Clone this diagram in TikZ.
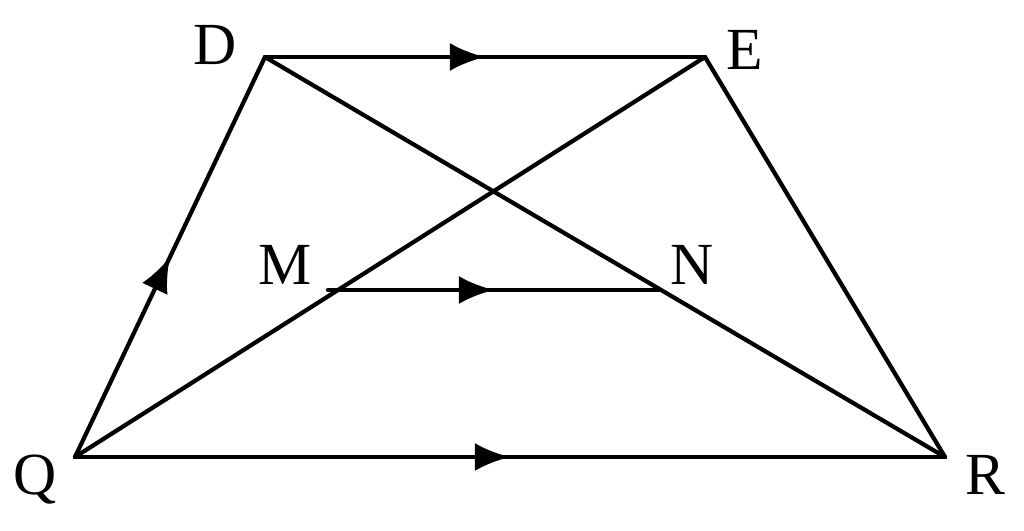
\documentclass[tikz,border=0pt]{standalone}
\usepackage{fontspec}
\setmainfont{Liberation Serif}
\usetikzlibrary{arrows.meta, decorations.markings}
\tikzset{
  side/.style={line width=1.2pt, line cap=round, line join=round},
  midarrow/.style={side, postaction={decorate}, decoration={markings,
    mark=at position 0.5 with {\arrow{Latex[length=10pt,width=8pt]}}}},
  vlabel/.style={font=\fontsize{17}{20}\selectfont, inner sep=0pt}
}
\begin{document}
\begin{tikzpicture}
  \useasboundingbox (0,0) rectangle (10.24,5.30);
  % points
  \coordinate (Q) at (0.75,0.73);
  \coordinate (R) at (9.45,0.73);
  \coordinate (D) at (2.65,4.73);
  \coordinate (E) at (7.05,4.73);
  \coordinate (M) at (3.28,2.40);
  \coordinate (N) at (6.60,2.40);

  % sides
  \draw[midarrow] (Q) -- (D);
  \draw[midarrow] (D) -- (E);
  \draw[side] (E) -- (R);
  \draw[midarrow] (Q) -- (R);
  \draw[midarrow] (M) -- (N);

  % diagonals
  \draw[side] (Q) -- (E);
  \draw[side] (D) -- (R);

  % labels
  \node[vlabel] (lD) at (2.15,4.85) {D};
  \node[vlabel] (lE) at (7.45,4.80) {E};
  \node[vlabel] (lM) at (2.85,2.65) {M};
  \node[vlabel] (lN) at (6.92,2.65) {N};
  \node[vlabel] (lQ) at (0.35,0.50) {Q};
  \node[vlabel] (lR) at (9.85,0.55) {R};
\end{tikzpicture}
\end{document}
